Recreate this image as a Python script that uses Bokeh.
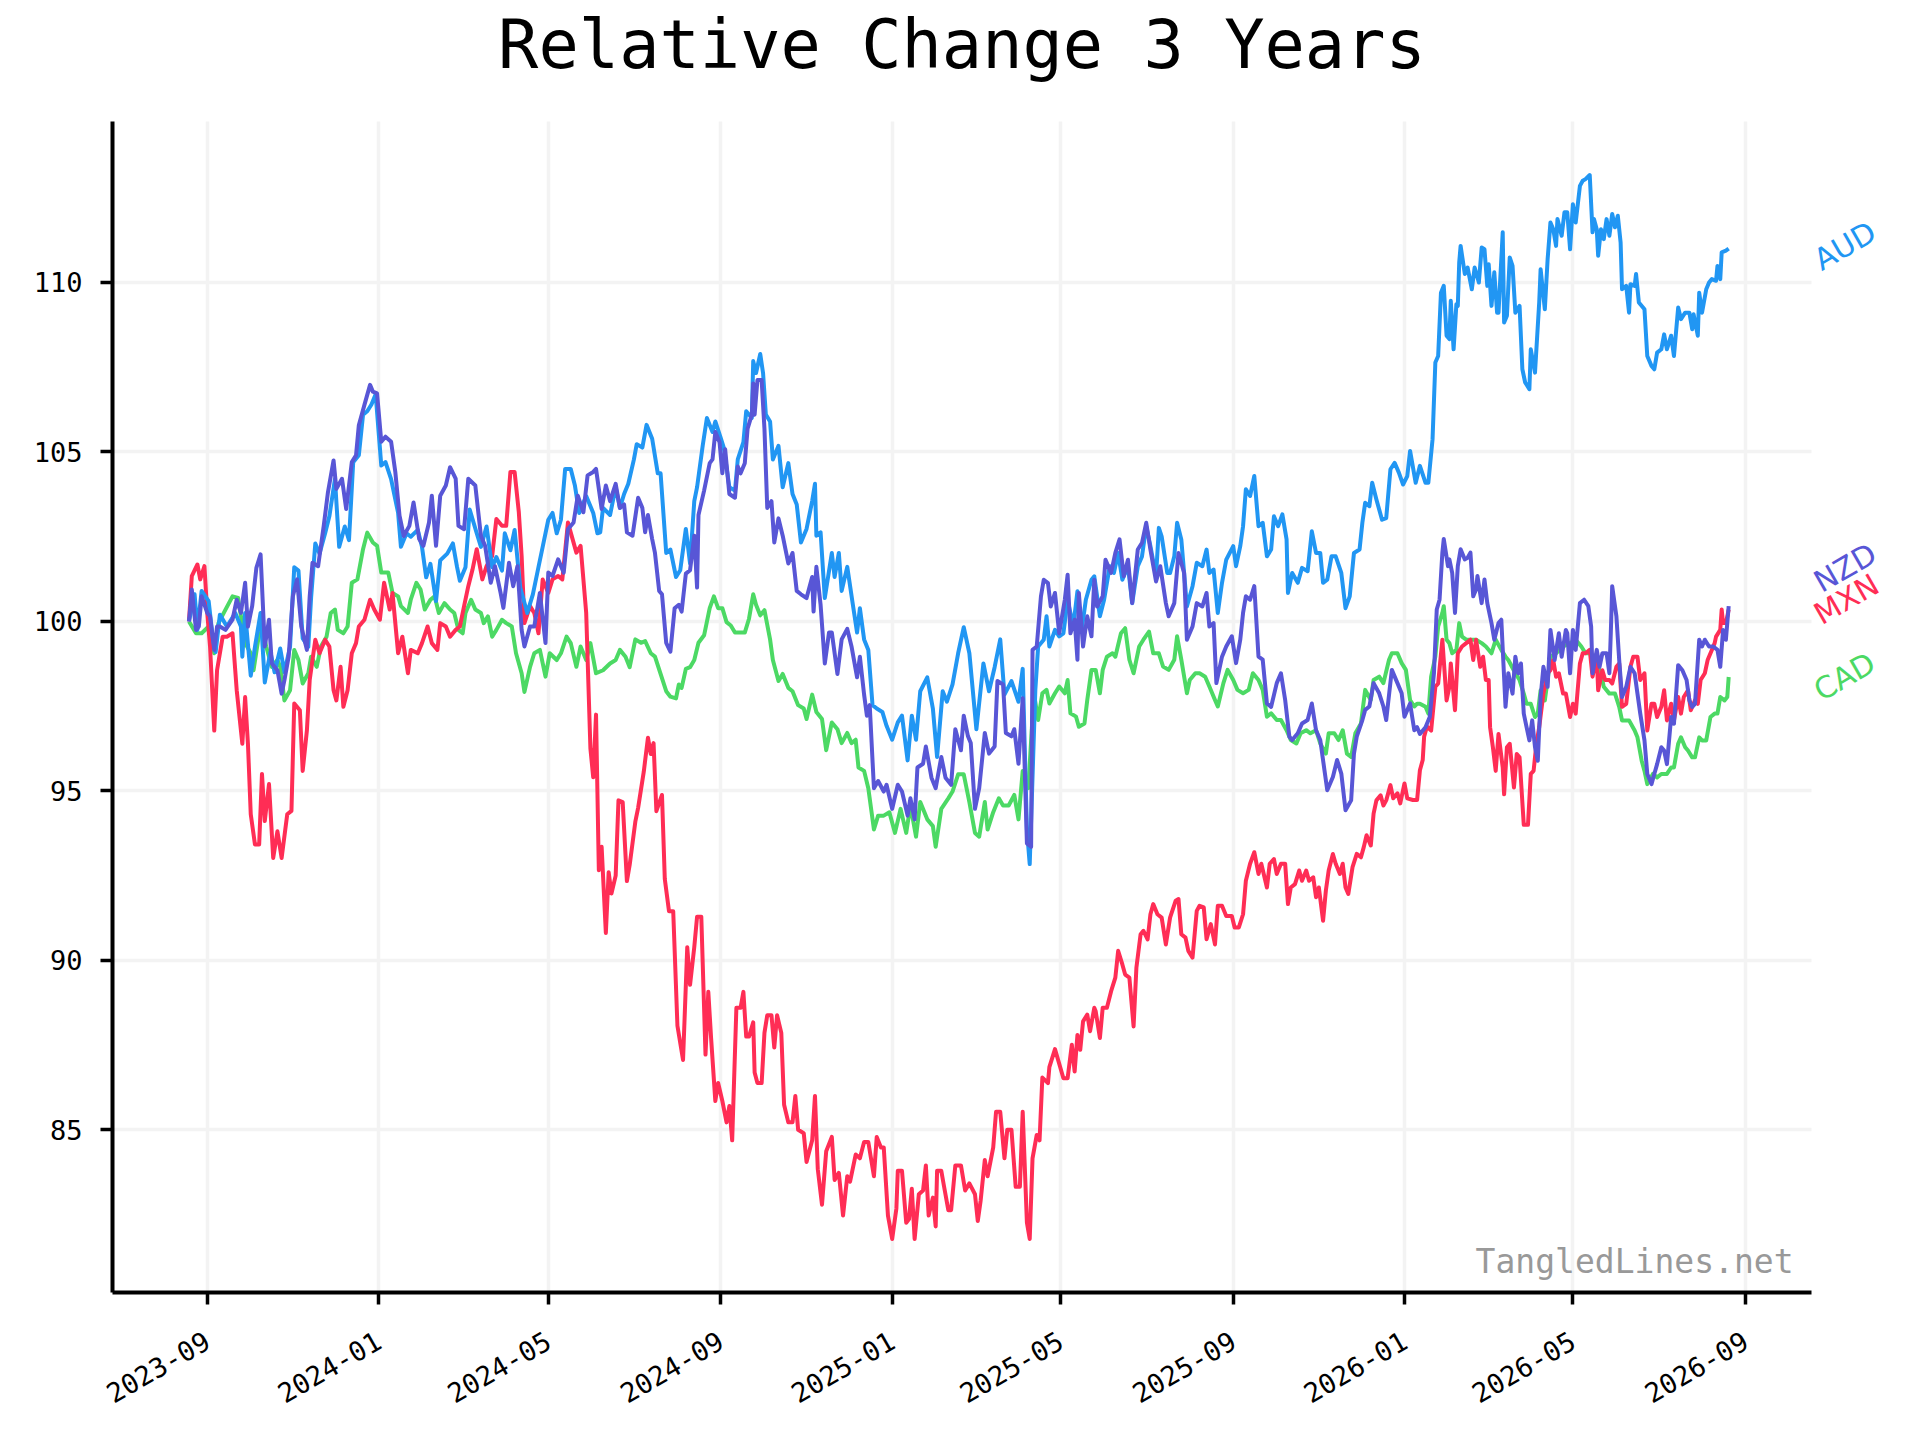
import math
import pandas as pd
from bokeh.plotting import figure
from bokeh.models import Range1d, FixedTicker, DatetimeTickFormatter, Label
from bokeh.embed import file_html
from bokeh.resources import INLINE

# day offsets are counted from 2023-09-01, values are relative to the first day (=100)
day0 = pd.Timestamp("2023-09-01")

aud = [(-13, 100.0), (-9, 100.8), (-7, 99.75), (-4, 100.9), (1, 100.6), (4, 99.5), (6, 99.1), (9, 100.2), (14, 99.85), (20, 100.25),
       (24, 99.85), (25, 98.96), (27, 100.25), (31, 98.4), (34, 99.25), (38, 100.25), (41, 98.2), (45, 99.1), (48, 98.5), (52, 99.2),
       (55, 98.5), (59, 99.25), (62, 101.6), (65, 101.5), (68, 99.5), (72, 99.25), (74, 100.7), (77, 102.3), (80, 102.0), (84, 102.6),
       (87, 103.1), (91, 104.2), (94, 102.2), (98, 102.8), (101, 102.4), (104, 104.7), (108, 104.9), (111, 106.1), (114, 106.2), (117, 106.4),
       (120, 106.7), (124, 104.6), (127, 104.7), (131, 104.2), (136, 103.2), (138, 102.2), (142, 102.6), (145, 102.5), (150, 102.7), (153, 102.2),
       (156, 101.3), (159, 101.7), (163, 100.6), (166, 101.8), (171, 102.0), (175, 102.3), (178, 101.6), (180, 101.2), (184, 101.6), (187, 103.3),
       (192, 102.6), (195, 102.2), (199, 102.8), (203, 101.6), (206, 101.9), (210, 101.5), (212, 102.6), (216, 102.1), (219, 102.7), (223, 101.0),
       (228, 100.25), (232, 100.8), (236, 101.6), (239, 102.2), (243, 103.0), (246, 103.2), (249, 102.6), (252, 103.0), (255, 104.5), (259, 104.5),
       (262, 104.0), (265, 103.2), (270, 103.7), (275, 103.2), (278, 102.6),
       (280, 102.63), (282, 103.35), (287, 103.14), (291, 103.96), (294, 103.35), (297, 103.76), (300, 104.06), (304, 104.78), (306, 105.23), (310, 105.13),
       (313, 105.8), (317, 105.39), (321, 104.37), (323, 104.37), (327, 102.02), (330, 102.12), (334, 101.31), (337, 101.51), (341, 102.73), (344, 101.71),
       (347, 103.55), (349, 103.96), (353, 105.18), (356, 106.0), (360, 105.59), (362, 105.9), (366, 105.39), (368, 105.13), (372, 103.96), (376, 103.86),
       (378, 104.78), (382, 105.29), (384, 106.2), (388, 106.0), (389, 107.68), (391, 107.33), (394, 107.89), (396, 107.33), (398, 106.1), (401, 105.9),
       (403, 104.78), (407, 105.18), (410, 103.96), (414, 104.67), (417, 103.76), (420, 103.45), (423, 102.33), (427, 102.73), (431, 103.55), (433, 104.06),
       (434, 102.53), (437, 102.63), (440, 100.69), (445, 102.02), (447, 101.31), (450, 102.02), (452, 100.9), (456, 101.61), (460, 100.49), (463, 99.67),
       (465, 100.39), (468, 99.47), (471, 99.16), (474, 97.53), (477, 97.43), (481, 97.33), (484, 96.92), (488, 96.51), (492, 97.02), (495, 97.22),
       (499, 95.9), (502, 97.22), (505, 96.51), (508, 97.94), (513, 98.35), (517, 97.43), (520, 96.0), (524, 97.94), (527, 97.63), (531, 98.14),
       (535, 99.06), (539, 99.83), (543, 99.06), (548, 96.82), (553, 98.76), (557, 97.94), (561, 98.65), (565, 99.47), (568, 97.84), (573, 98.24),
       (578, 97.63), (581, 98.6), (584, 93.86), (586, 92.84),
       (590, 97.98), (592, 99.26), (596, 99.46), (598, 100.15), (600, 99.26), (604, 99.75), (607, 99.56), (610, 99.65), (613, 100.64), (617, 99.85),
       (620, 100.89), (623, 99.75), (626, 100.64), (630, 101.23), (632, 101.33), (636, 100.15), (639, 100.64), (643, 101.63), (646, 101.43), (649, 102.02),
       (652, 101.23), (656, 101.63), (659, 100.54), (663, 101.63), (666, 101.92), (669, 102.81), (672, 102.22), (676, 101.33), (678, 102.76), (680, 102.51),
       (684, 101.43), (686, 101.43), (689, 101.92), (691, 102.91), (694, 102.42), (698, 100.44), (702, 101.04), (705, 101.73), (709, 101.63), (712, 102.12),
       (714, 101.43), (717, 101.53), (720, 100.25), (723, 101.14), (726, 101.82), (731, 102.22), (733, 101.63), (736, 102.22), (738, 102.81), (740, 103.9),
       (743, 103.7), (746, 104.29), (749, 102.81), (752, 102.91), (755, 101.92), (758, 102.12), (760, 103.1), (763, 102.81), (766, 103.16), (769, 102.42),
       (770, 100.84), (773, 101.43), (777, 101.14), (780, 101.58), (784, 101.48), (787, 102.66), (790, 102.02), (793, 102.02), (795, 101.14), (798, 101.23),
       (801, 101.92), (804, 101.92), (808, 101.43), (811, 100.39), (814, 100.74), (817, 102.02), (821, 102.12), (823, 102.91), (825, 103.5), (828, 103.4),
       (830, 104.09), (833, 103.6), (837, 103.0), (840, 103.05), (843, 104.49), (846, 104.68), (849, 104.39), (852, 104.04), (855, 104.29), (857, 105.03),
       (861, 104.09), (864, 104.59), (868, 104.09), (870, 104.09),
       (873, 105.37), (875, 107.64), (877, 107.83), (879, 109.7), (881, 109.9), (883, 108.43), (885, 108.33), (886, 109.46), (888, 108.03), (890, 109.36),
       (891, 109.31), (892, 110.59), (893, 111.08), (896, 110.25), (898, 110.44), (901, 109.8), (903, 110.44), (906, 110.0), (908, 111.03), (910, 110.98),
       (912, 109.9), (913, 110.54), (915, 109.31), (917, 110.3), (919, 109.11), (920, 109.11), (923, 111.48), (924, 108.82), (926, 109.02), (928, 110.74),
       (930, 110.49), (932, 109.11), (935, 109.31), (937, 107.44), (939, 107.05), (942, 106.85), (943, 108.03), (946, 107.34), (949, 109.41), (950, 110.39),
       (953, 109.21), (955, 110.69), (957, 111.77), (959, 111.57), (961, 111.08), (962, 111.87), (965, 111.38), (967, 112.07), (969, 112.07), (971, 110.98),
       (973, 112.31), (975, 111.77), (978, 112.85), (980, 113.0), (982, 113.05), (985, 113.17), (987, 111.48), (988, 111.87), (990, 111.57), (991, 110.79),
       (993, 111.57), (995, 111.28), (997, 111.87), (999, 111.38), (1001, 112.02), (1003, 111.63), (1005, 111.97), (1007, 111.18), (1008, 109.8), (1011, 109.9),
       (1013, 109.11), (1014, 109.95), (1017, 109.9), (1018, 110.25), (1020, 109.41), (1024, 109.21), (1026, 107.83), (1029, 107.54), (1031, 107.44), (1033, 107.93),
       (1036, 108.03), (1038, 108.47), (1040, 108.03), (1043, 108.43), (1045, 107.83), (1048, 109.26), (1050, 108.92), (1053, 109.11), (1056, 109.11), (1058, 108.62),
       (1059, 109.06), (1062, 108.43), (1063, 109.7), (1065, 109.11), (1068, 109.8), (1070, 110.0), (1072, 110.1), (1075, 110.05), (1076, 110.49), (1078, 110.1),
       (1079, 110.89), (1082, 110.94), (1084, 111.0)]

nzd = [(-13, 100.0), (-11, 100.94), (-8, 99.75), (-6, 99.85), (-4, 100.74), (0, 100.25), (2, 100.15), (5, 99.16), (7, 99.85), (9, 99.85),
       (13, 99.75), (18, 100.05), (21, 100.64), (24, 100.25), (27, 101.14), (29, 99.85), (32, 100.45), (35, 101.58), (38, 101.98), (41, 99.26),
       (44, 100.05), (46, 98.76), (50, 98.56), (53, 97.87), (55, 98.27), (58, 98.96), (61, 100.74), (64, 101.24), (67, 99.85), (71, 99.16),
       (73, 100.74), (75, 101.73), (79, 101.63), (83, 102.82), (86, 103.81), (90, 104.75), (92, 103.91), (96, 104.21), (99, 103.32), (103, 104.7),
       (106, 104.9), (108, 105.79), (112, 106.39), (116, 106.98), (118, 106.78), (121, 106.73), (124, 105.3), (127, 105.45), (131, 105.3), (134, 104.41),
       (137, 103.12), (140, 102.52), (144, 102.82), (147, 103.51), (151, 102.43), (154, 102.23), (158, 102.92), (160, 103.71), (163, 102.23), (166, 103.71),
       (170, 104.01), (173, 104.55), (177, 104.21), (179, 102.82), (183, 102.72), (186, 104.21), (191, 104.01), (195, 102.52), (198, 102.23), (202, 101.14),
       (205, 101.63), (209, 100.84), (211, 100.4), (215, 101.73), (218, 101.04), (221, 101.63), (224, 99.75), (226, 99.26), (230, 99.85), (233, 99.85),
       (237, 100.84), (241, 99.36), (243, 101.44), (246, 101.34), (250, 101.83), (254, 101.44), (257, 102.72), (261, 102.92), (264, 103.71), (268, 103.22),
       (271, 104.31), (275, 104.41), (277, 104.5), (281, 103.32), (284, 104.01),
       (287, 103.55), (291, 104.06), (294, 103.35), (297, 103.45), (299, 102.63), (303, 102.53), (307, 103.65), (310, 103.35), (312, 102.63), (314, 103.14),
       (317, 102.43), (319, 102.02), (322, 100.9), (324, 100.8), (327, 99.37), (330, 99.11), (333, 100.39), (336, 100.49), (338, 100.29), (341, 101.41),
       (344, 101.51), (347, 102.53), (349, 101.0), (350, 103.14), (354, 103.86), (358, 104.67), (360, 104.78), (362, 105.59), (365, 105.29), (367, 104.37),
       (369, 105.08), (372, 103.76), (376, 103.65), (378, 104.57), (380, 104.37), (383, 104.67), (385, 105.69), (388, 106.1), (389, 107.02), (390, 106.1),
       (392, 107.12), (395, 107.12), (397, 105.69), (399, 103.35), (402, 103.55), (404, 102.33), (407, 103.04), (410, 102.53), (414, 101.71), (417, 102.02),
       (420, 100.9), (423, 100.8), (427, 100.69), (431, 101.31), (432, 100.29), (434, 101.61), (437, 100.49), (440, 98.76), (443, 99.67), (445, 99.67),
       (449, 98.45), (452, 99.47), (456, 99.78), (459, 99.27), (463, 98.35), (465, 98.96), (468, 97.84), (470, 97.22), (472, 97.53), (475, 95.08),
       (478, 95.29), (482, 94.98), (484, 95.18), (488, 94.47), (492, 95.18), (495, 94.98), (499, 94.27), (501, 94.78), (504, 94.16), (506, 95.69),
       (510, 95.8), (512, 96.31), (516, 95.39), (519, 95.08), (523, 96.0), (526, 95.39), (530, 95.18), (533, 96.82), (537, 96.2), (539, 97.22),
       (542, 96.61), (544, 96.41), (547, 94.47), (550, 95.08), (554, 96.71), (557, 96.1), (561, 96.31), (563, 98.24), (567, 98.14), (569, 96.71),
       (573, 96.61), (575, 96.82), (578, 95.8), (581, 97.73), (584, 93.45), (587, 93.35),
       (588, 99.16), (591, 99.26), (594, 100.74), (596, 101.23), (599, 101.13), (601, 100.44), (604, 100.84), (607, 99.65), (611, 100.64), (613, 101.38),
       (615, 99.65), (618, 100.05), (620, 98.87), (621, 100.84), (624, 99.26), (627, 100.15), (630, 99.56), (632, 101.23), (634, 100.44), (638, 100.74),
       (640, 101.82), (644, 101.43), (647, 102.02), (650, 102.42), (653, 101.33), (656, 101.82), (659, 100.54), (663, 102.12), (666, 102.32), (669, 102.91),
       (672, 102.12), (676, 101.18), (679, 101.63), (683, 100.54), (685, 100.15), (689, 100.54), (692, 102.02), (696, 101.43), (698, 99.46), (702, 99.85),
       (705, 100.54), (709, 100.44), (712, 100.84), (714, 99.85), (717, 99.95), (719, 98.18), (723, 98.96), (726, 99.26), (730, 99.56), (733, 98.77),
       (736, 99.46), (738, 100.25), (740, 100.74), (743, 100.64), (746, 101.04), (749, 98.96), (752, 98.87), (755, 97.58), (758, 97.48), (762, 98.18),
       (765, 98.47), (768, 97.68), (771, 96.6), (773, 96.5), (777, 96.7), (780, 96.99), (784, 97.09), (787, 97.58), (790, 96.79), (793, 96.5),
       (796, 95.61), (798, 95.02), (802, 95.41), (805, 95.91), (808, 95.51), (811, 94.43), (815, 94.72), (817, 96.1), (819, 96.6), (823, 97.09),
       (825, 97.39), (828, 97.49), (831, 98.18), (835, 97.88), (838, 97.49), (840, 97.09), (844, 98.57), (848, 98.18), (851, 97.88), (853, 97.19),
       (857, 97.58), (860, 96.79),
       (862, 96.88), (864, 96.68), (868, 96.88), (871, 97.18), (874, 98.47), (876, 100.35), (878, 100.64), (880, 102.03), (881, 102.43), (884, 101.63),
       (885, 101.83), (887, 101.43), (889, 100.25), (891, 101.63), (893, 102.13), (896, 101.83), (898, 101.88), (900, 102.03), (902, 100.74), (904, 100.94),
       (905, 101.34), (908, 100.54), (910, 101.24), (912, 100.54), (915, 99.95), (917, 99.46), (920, 99.95), (922, 100.05), (925, 97.48), (927, 98.47),
       (930, 97.87), (932, 98.96), (934, 98.47), (936, 98.76), (938, 97.28), (940, 96.88), (942, 96.49), (944, 97.08), (946, 96.29), (948, 95.89),
       (950, 97.77), (952, 98.66), (955, 98.07), (957, 99.75), (960, 98.86), (963, 99.65), (965, 98.96), (968, 99.75), (969, 99.65), (971, 98.47),
       (973, 99.75), (975, 99.16), (978, 100.54), (981, 100.64), (984, 100.45), (986, 99.85), (987, 98.47), (990, 99.16), (992, 98.66), (994, 99.06),
       (997, 99.06), (999, 98.47), (1000, 99.65), (1001, 101.04), (1004, 100.15), (1006, 98.86), (1008, 97.77), (1011, 98.07), (1014, 98.66), (1017, 98.47),
       (1019, 97.87), (1021, 97.28), (1024, 96.49), (1026, 95.5), (1029, 95.2), (1031, 95.5), (1033, 95.79), (1036, 96.29), (1038, 96.19), (1040, 95.79),
       (1043, 97.18), (1045, 96.98), (1048, 98.71), (1051, 98.56), (1054, 98.27), (1056, 97.67), (1058, 97.48), (1060, 97.57), (1063, 99.46), (1065, 99.26),
       (1067, 99.46), (1070, 99.26), (1073, 99.26), (1076, 99.16), (1078, 98.66), (1080, 99.75), (1082, 99.46), (1084, 100.45)]

cad = [(-13, 100.0), (-8, 99.65), (-4, 99.65), (1, 99.85), (5, 99.06), (8, 99.95), (13, 100.35), (18, 100.74), (22, 100.69), (27, 99.36),
       (31, 99.06), (33, 98.56), (37, 99.65), (40, 99.65), (42, 99.26), (46, 98.66), (50, 98.86), (52, 98.66), (55, 97.67), (59, 97.97),
       (62, 99.16), (65, 98.86), (68, 98.17), (72, 98.47), (74, 98.96), (78, 98.66), (81, 99.26), (85, 99.55), (88, 100.25), (91, 100.35),
       (93, 99.75), (97, 99.65), (100, 99.85), (103, 101.14), (107, 101.24), (111, 102.13), (114, 102.62), (118, 102.33), (121, 102.23), (124, 101.44),
       (129, 101.44), (132, 100.84), (136, 100.74), (138, 100.45), (143, 100.25), (145, 100.64), (149, 101.14), (152, 100.94), (155, 100.35), (159, 100.64),
       (162, 100.74), (165, 100.25), (169, 100.54), (173, 100.35), (176, 100.25), (179, 99.75), (182, 99.65), (184, 100.25), (188, 100.64), (191, 100.35),
       (195, 100.25), (197, 99.95), (200, 100.15), (203, 99.55), (206, 99.75), (210, 100.05), (213, 99.95), (217, 99.85), (220, 99.06), (224, 98.47),
       (226, 97.92), (230, 98.66), (233, 99.06), (237, 99.16), (241, 98.37), (244, 99.06), (249, 98.86), (252, 99.06), (256, 99.55), (259, 99.36),
       (263, 98.66), (266, 99.26), (270, 98.86), (273, 99.36), (277, 98.47), (282, 98.56), (287, 98.76),
       (291, 98.86), (294, 99.16), (298, 98.96), (301, 98.65), (305, 99.47), (309, 99.37), (312, 99.42), (316, 99.06), (319, 98.96), (323, 98.45),
       (327, 97.94), (330, 97.78), (334, 97.73), (336, 98.14), (338, 98.04), (341, 98.6), (344, 98.65), (347, 98.86), (350, 99.37), (354, 99.59),
       (358, 100.39), (361, 100.74), (364, 100.39), (367, 100.39), (370, 99.98), (373, 99.88), (376, 99.67), (379, 99.67), (383, 99.67), (386, 100.08),
       (389, 100.8), (391, 100.49), (394, 100.18), (397, 100.33), (401, 99.47), (403, 98.86), (407, 98.24), (410, 98.45), (414, 98.04), (417, 97.94),
       (421, 97.53), (425, 97.43), (427, 97.12), (431, 97.84), (434, 97.33), (438, 97.12), (441, 96.2), (445, 97.02), (449, 96.82), (452, 96.41),
       (456, 96.71), (459, 96.41), (462, 96.51), (464, 95.69), (468, 95.59), (471, 95.08), (475, 93.86), (478, 94.27), (482, 94.27), (486, 94.37),
       (490, 93.76), (494, 94.47), (498, 93.76), (501, 94.57), (505, 93.65), (508, 94.67), (513, 94.16), (517, 93.96), (519, 93.35), (523, 94.47),
       (528, 94.78), (531, 94.98), (535, 95.49), (539, 95.49), (543, 94.67), (547, 93.76), (550, 93.65), (554, 94.67), (556, 93.86), (560, 94.37),
       (564, 94.78), (567, 94.57), (571, 94.57), (575, 94.88), (578, 94.16), (581, 95.59), (585, 95.08),
       (589, 97.88), (592, 97.09), (595, 97.88), (598, 97.98), (600, 97.58), (604, 97.88), (607, 98.08), (611, 97.88), (613, 98.27), (615, 97.29),
       (619, 97.19), (621, 96.89), (625, 96.99), (627, 97.68), (630, 98.57), (633, 98.57), (636, 97.88), (638, 98.57), (641, 98.96), (645, 99.06),
       (647, 98.96), (651, 99.65), (654, 99.8), (657, 98.87), (660, 98.47), (664, 99.26), (667, 99.46), (671, 99.7), (674, 99.06), (678, 99.06),
       (681, 98.67), (685, 98.57), (689, 98.87), (691, 99.56), (694, 98.87), (698, 97.88), (700, 98.27), (704, 98.47), (707, 98.47), (711, 98.37),
       (714, 98.08), (718, 97.68), (720, 97.49), (724, 98.18), (727, 98.57), (731, 98.27), (734, 97.98), (738, 97.88), (742, 97.98), (745, 98.47),
       (749, 98.27), (752, 97.98), (755, 97.19), (758, 97.29), (762, 97.09), (765, 97.09), (769, 96.79), (772, 96.5), (776, 96.4), (779, 96.7),
       (783, 96.79), (786, 96.7), (790, 96.79), (793, 96.4), (797, 96.1), (799, 96.7), (803, 96.7), (806, 96.5), (809, 96.79), (812, 96.1),
       (815, 96.0), (818, 96.7), (822, 96.99), (825, 97.98), (829, 97.68), (831, 98.27), (835, 98.37), (838, 98.18), (842, 98.87), (844, 99.06),
       (848, 99.06), (851, 98.77), (854, 98.57), (857, 97.68), (860, 97.49),
       (862, 97.57), (864, 97.57), (868, 97.48), (870, 97.28), (872, 98.37), (875, 98.96), (877, 99.85), (880, 100.25), (881, 100.45), (883, 99.46),
       (885, 99.36), (887, 99.06), (890, 99.16), (892, 99.95), (894, 99.55), (897, 99.46), (900, 99.46), (904, 99.46), (908, 99.36), (911, 99.26),
       (915, 99.06), (918, 99.46), (922, 99.16), (925, 98.96), (927, 98.86), (932, 98.47), (935, 98.27), (938, 97.87), (940, 97.57), (943, 97.57),
       (946, 97.18), (948, 97.28), (950, 97.97), (953, 97.67), (955, 98.27), (957, 98.96), (961, 99.06), (966, 99.26), (971, 99.36), (975, 99.46),
       (979, 99.26), (982, 99.06), (986, 99.06), (990, 98.76), (993, 98.47), (995, 98.07), (999, 97.87), (1003, 97.87), (1006, 97.48), (1008, 97.08),
       (1013, 97.08), (1017, 96.78), (1019, 96.58), (1022, 95.89), (1024, 95.59), (1026, 95.2), (1030, 95.5), (1033, 95.4), (1036, 95.5), (1040, 95.5),
       (1043, 95.69), (1045, 95.69), (1048, 96.39), (1050, 96.58), (1053, 96.29), (1055, 96.19), (1058, 95.99), (1060, 95.99), (1063, 96.58), (1065, 96.49),
       (1068, 96.49), (1071, 97.18), (1074, 97.28), (1076, 97.28), (1078, 97.77), (1081, 97.67), (1083, 97.77), (1084, 98.36)]

mxn = [(-13, 100.0), (-11, 101.34), (-7, 101.68), (-5, 101.24), (-2, 101.63), (0, 100.25), (2, 99.26), (5, 96.78), (7, 98.56), (11, 99.55),
       (14, 99.55), (18, 99.65), (21, 97.97), (25, 96.39), (27, 97.77), (29, 96.39), (31, 94.31), (34, 93.42), (37, 93.42), (39, 95.5),
       (41, 94.11), (44, 95.2), (47, 93.02), (50, 93.81), (53, 93.02), (57, 94.31), (60, 94.41), (62, 97.58), (66, 97.38), (68, 95.59),
       (71, 96.78), (73, 98.27), (77, 99.46), (80, 99.06), (84, 99.46), (87, 99.26), (90, 97.97), (92, 97.67), (95, 98.66), (97, 97.48),
       (100, 97.97), (103, 99.06), (106, 99.36), (108, 99.85), (112, 100.05), (116, 100.64), (119, 100.35), (123, 100.05), (126, 101.14), (130, 100.35),
       (132, 100.84), (136, 99.06), (139, 99.55), (143, 98.47), (145, 99.16), (150, 99.06), (153, 99.36), (157, 99.85), (160, 99.36), (164, 99.16),
       (166, 99.95), (170, 99.85), (173, 99.55), (177, 99.75), (180, 99.85), (183, 100.45), (186, 101.04), (189, 101.53), (192, 102.13), (196, 101.24),
       (199, 101.63), (203, 101.93), (206, 103.02), (210, 102.82), (213, 102.82), (216, 104.41), (219, 104.41), (222, 103.22), (224, 101.93), (226, 99.95),
       (230, 100.45), (233, 100.25), (236, 99.65), (239, 101.24), (243, 100.84), (246, 101.24), (250, 101.34), (253, 101.24), (257, 102.92), (259, 102.62),
       (263, 102.03), (266, 102.23), (270, 100.25),
       (273, 96.25), (275, 95.4), (277, 97.25), (279, 92.66), (281, 93.35), (284, 90.81), (286, 92.6), (288, 91.97), (291, 92.5), (293, 94.72),
       (296, 94.67), (299, 92.34), (301, 92.82), (305, 94.09), (307, 94.5), (311, 95.56), (314, 96.57), (316, 96.09), (318, 96.41), (320, 94.4),
       (324, 94.88), (326, 92.4), (329, 91.45), (332, 91.45), (335, 88.07), (339, 87.06), (342, 90.39), (344, 89.28), (347, 90.39), (349, 91.29),
       (352, 91.29), (355, 87.22), (357, 89.07), (359, 87.7), (362, 85.85), (364, 86.38), (367, 85.85), (370, 85.22), (372, 85.7), (374, 84.69),
       (377, 88.6), (380, 88.6), (382, 89.07), (384, 87.75), (386, 87.75), (389, 88.17), (390, 86.69), (392, 86.38), (395, 86.38), (397, 87.86),
       (399, 88.38), (402, 88.38), (404, 87.43), (406, 88.38), (409, 87.86), (411, 85.74), (414, 85.22), (417, 85.22), (419, 86.0), (421, 85.0),
       (425, 84.9), (427, 84.05), (431, 84.69), (433, 86.0), (435, 83.84), (438, 82.79), (441, 84.37), (445, 84.79), (447, 83.52), (450, 83.73),
       (453, 82.47), (456, 83.63), (458, 83.47), (462, 84.27), (465, 84.16), (468, 84.64), (471, 84.64), (475, 83.63), (477, 84.79), (480, 84.48),
       (482, 84.48), (485, 82.47), (488, 81.78), (491, 82.68), (492, 83.79), (495, 83.79), (498, 82.26), (500, 82.37), (502, 83.26), (504, 81.78),
       (507, 83.1), (510, 83.21), (512, 83.95), (514, 82.47), (517, 83.0), (519, 82.15), (520, 83.79), (523, 83.79), (525, 83.32), (528, 82.63),
       (530, 82.63), (533, 83.95), (537, 83.95), (540, 83.21), (543, 83.42), (547, 83.1), (549, 82.31), (551, 82.9), (554, 84.11), (556, 83.63),
       (560, 84.48), (562, 85.53), (565, 85.53), (568, 84.16), (570, 85.0), (573, 85.0), (576, 83.32), (579, 83.32), (581, 85.53), (584, 82.26),
       (586, 81.78), (588, 84.16), (591, 84.85), (593, 84.69), (595, 86.54), (599, 86.38), (600, 86.85), (604, 87.38),
       (610, 86.52), (613, 86.52), (616, 87.51), (618, 86.72), (620, 87.8), (622, 87.36), (624, 88.2), (627, 88.4), (629, 87.91), (632, 88.6),
       (633, 88.5), (636, 87.71), (638, 88.6), (641, 88.6), (644, 89.09), (647, 89.49), (649, 90.28), (652, 89.88), (654, 89.58), (657, 89.49),
       (660, 88.05), (662, 89.78), (665, 90.77), (667, 90.87), (670, 90.62), (672, 91.36), (674, 91.66), (677, 91.36), (680, 91.26), (683, 90.47),
       (686, 91.26), (690, 91.76), (692, 91.81), (694, 90.77), (697, 90.67), (699, 90.28), (702, 90.08), (705, 91.46), (707, 91.61), (710, 91.56),
       (712, 90.62), (715, 91.07), (718, 90.47), (720, 91.61), (723, 91.61), (726, 91.31), (730, 91.31), (732, 90.97), (735, 90.97), (738, 91.36),
       (740, 92.35), (743, 92.85), (746, 93.19), (749, 92.55), (751, 92.85), (755, 92.15), (757, 92.85), (760, 92.99), (762, 92.55), (765, 92.85),
       (768, 92.85), (770, 91.66), (772, 92.15), (775, 92.25), (778, 92.65), (780, 92.35), (783, 92.65), (785, 92.35), (788, 92.45), (790, 91.86),
       (792, 92.15), (795, 91.17), (797, 92.06), (799, 92.65), (802, 93.14), (804, 92.85), (807, 92.55), (809, 92.85), (811, 92.15), (813, 91.96),
       (816, 92.75), (819, 93.14), (822, 93.04), (824, 93.34), (826, 93.69), (829, 93.39), (831, 94.33), (833, 94.72), (836, 94.87), (838, 94.57),
       (840, 94.72), (843, 95.17), (845, 94.78), (848, 94.93), (850, 94.63), (853, 95.22), (855, 94.78), (859, 94.73), (862, 94.73), (864, 95.61),
       (866, 95.91), (867, 96.6), (869, 96.9),
       (872, 96.78), (875, 98.07), (877, 98.17), (880, 99.46), (881, 98.86), (883, 97.67), (885, 98.07), (886, 98.76), (889, 97.38), (891, 99.06),
       (894, 99.26), (897, 99.36), (900, 99.46), (902, 98.86), (904, 99.46), (907, 98.66), (909, 98.96), (911, 98.27), (913, 98.27), (914, 96.88),
       (916, 96.29), (918, 95.59), (920, 96.68), (923, 95.69), (924, 94.9), (926, 96.29), (928, 96.39), (931, 95.1), (933, 96.09), (935, 95.99),
       (938, 94.0), (941, 94.0), (943, 95.5), (945, 95.59), (947, 96.39), (949, 96.88), (952, 97.87), (955, 98.47), (957, 98.56), (959, 98.86),
       (961, 98.37), (963, 98.47), (966, 97.87), (968, 97.87), (971, 97.18), (973, 97.57), (975, 97.28), (978, 98.76), (980, 99.06), (982, 99.06),
       (985, 99.16), (987, 98.37), (990, 98.96), (991, 97.97), (994, 98.56), (996, 98.27), (999, 98.27), (1001, 98.17), (1004, 98.66), (1006, 98.76),
       (1008, 97.48), (1011, 97.57), (1014, 98.66), (1016, 98.96), (1019, 98.96), (1021, 98.27), (1024, 98.47), (1026, 96.78), (1029, 97.57), (1031, 97.57),
       (1033, 97.18), (1036, 97.48), (1038, 97.97), (1040, 97.08), (1043, 97.57), (1045, 97.08), (1048, 97.77), (1050, 97.28), (1052, 97.77), (1055, 97.97),
       (1057, 97.38), (1060, 97.67), (1062, 97.57), (1064, 98.27), (1067, 98.47), (1069, 98.86), (1072, 99.16), (1074, 99.36), (1075, 99.55), (1078, 99.75),
       (1079, 100.35), (1080, 99.95), (1082, 99.95), (1084, 100.35)]

# where each currency name is written, right of the axes (value units)
label_y = {"AUD": 110.6, "NZD": 101.1, "MXN": 100.15, "CAD": 97.9}
colors = {"AUD": "#2196f3", "NZD": "#5856d6", "MXN": "#ff2d55", "CAD": "#4cd964"}
tick_months = ["2023-09", "2024-01", "2024-05", "2024-09", "2025-01",
               "2025-05", "2025-09", "2026-01", "2026-05", "2026-09"]
y_ticks = [85, 90, 95, 100, 105, 110]


def ms(ts):
    return ts.value / 1e6


# axes limits (the drawn axes), in data units
x_start = ms(day0 + pd.Timedelta(days=-67.5))
x_axis_end = ms(day0 + pd.Timedelta(days=1143))
y_start, y_axis_end = 80.2, 114.75

# canvas layout: the frame is widened to the right and up so that the
# end labels and the title can live inside it; axes are bounded instead
W, H = 1904, 1424
left_b, right_b, top_b, bottom_b = 112, 4, 0, 132
axis_right_px, axis_top_px = 1811, 121
frame_l, frame_r = left_b, W - right_b
frame_t, frame_b = top_b, H - bottom_b
x_view_end = x_start + (x_axis_end - x_start) * (frame_r - frame_l) / (axis_right_px - frame_l)
y_view_end = y_start + (y_axis_end - y_start) * (frame_b - frame_t) / (frame_b - axis_top_px)

p = figure(width=W, height=H, x_axis_type="datetime",
           x_range=Range1d(x_start, x_view_end), y_range=Range1d(y_start, y_view_end),
           output_backend="svg", toolbar_location=None,
           min_border_left=left_b, min_border_right=right_b,
           min_border_top=top_b, min_border_bottom=bottom_b)

p.outline_line_color = None
p.background_fill_color = "white"
p.border_fill_color = "white"

p.xaxis.ticker = FixedTicker(ticks=[ms(pd.Timestamp(m + "-01")) for m in tick_months])
p.xaxis.formatter = DatetimeTickFormatter(days="%Y-%m", months="%Y-%m", years="%Y-%m")
p.xaxis.major_label_orientation = math.pi / 6
p.xaxis.bounds = (x_start, x_axis_end)
p.yaxis.ticker = FixedTicker(ticks=y_ticks)
p.yaxis.bounds = (y_start, y_axis_end)

for ax in (p.xaxis[0], p.yaxis[0]):
    ax.axis_line_color = "#000000"
    ax.axis_line_width = 4
    ax.major_tick_line_color = "#000000"
    ax.major_tick_line_width = 3.5
    ax.major_tick_out = 12
    ax.major_tick_in = 0
    ax.minor_tick_line_color = None
    ax.major_label_text_font = "DejaVu Sans Mono"
    ax.major_label_text_font_size = "27px"
    ax.major_label_text_color = "#000000"
p.yaxis.major_label_standoff = 18
p.xaxis.major_label_standoff = 34

p.grid.grid_line_color = "#f3f3f3"
p.grid.grid_line_width = 3.5
p.xgrid.cross_bounds = (y_start, y_axis_end)
p.ygrid.cross_bounds = (x_start, x_axis_end)

for name, pts in [("CAD", cad), ("MXN", mxn), ("AUD", aud), ("NZD", nzd)]:
    days = [d for d, v in pts]
    vals = [v for d, v in pts]
    dates = day0 + pd.to_timedelta(days, unit="D")
    p.line(dates, vals, line_color=colors[name], line_width=4, line_join="round")

for name in ["AUD", "NZD", "MXN", "CAD"]:
    p.add_layout(Label(x=x_axis_end, y=label_y[name], x_offset=5, text=name,
                       angle=math.radians(30), text_align="left", text_baseline="middle",
                       text_color=colors[name], text_font="DejaVu Sans",
                       text_font_size="30px"))

p.add_layout(Label(x=x_axis_end, y=y_start, x_offset=-18, y_offset=12, text="TangledLines.net",
                   text_align="right", text_baseline="bottom", text_color="#999999",
                   text_font="DejaVu Sans Mono", text_font_size="33px"))

# title, centred over the axes
p.add_layout(Label(x=(x_start + x_axis_end) / 2, y=y_axis_end, y_offset=77,
                   text="Relative Change 3 Years", text_align="center",
                   text_baseline="alphabetic", text_color="#000000",
                   text_font="DejaVu Sans Mono", text_font_size="67px"))

open("out.html", "w").write(file_html(p, INLINE))
